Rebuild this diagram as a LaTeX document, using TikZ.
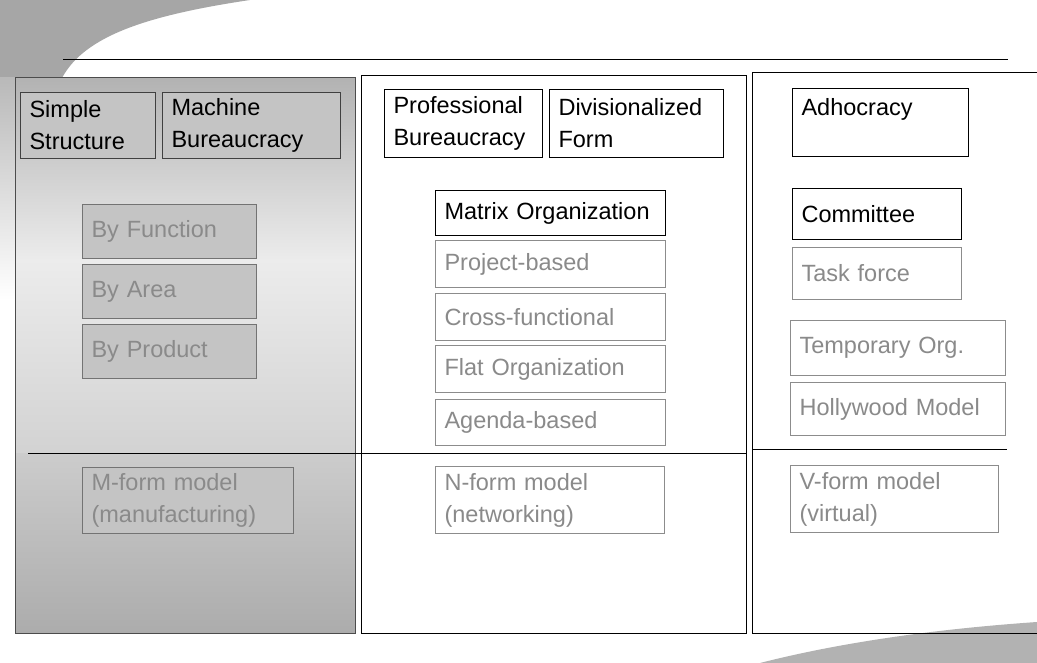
\documentclass[tikz,border=0pt]{standalone}
\usepackage{fontspec}
\setmainfont{Liberation Sans}
\hyphenpenalty=10000
\definecolor{boxgray}{HTML}{C4C4C4}
\definecolor{textgray}{HTML}{8A8A8A}
\definecolor{linegray}{HTML}{8C8C8C}
\tikzset{
  box/.style = {draw, rectangle, anchor = north west, align = left, inner xsep = 9pt, inner ysep = 0pt,
                line width = 1.1pt, font = \fontsize{23.5}{32}\selectfont},
  blackbox/.style = {box, draw = black, text = black, fill = white},
  graybox/.style = {box, draw = linegray, text = textgray, fill = white},
  leftbox/.style = {box, draw = black!75, text = black, fill = boxgray},
  leftgraybox/.style = {box, draw = black!55, text = textgray, fill = boxgray}
}
\begin{document}
\begin{tikzpicture}[x = 1pt, y = -1pt]
\useasboundingbox (0, 0) rectangle (1037, 663);
% slide decoration
\fill[gray!70] (0, 0) -- (250, 0) .. controls (150, 15) and (85, 35) .. (62, 78) -- (0, 78) -- cycle;
\shade[top color = gray!55, bottom color = white] (0, 78) rectangle (15, 300);
\fill[gray!60] (760, 663) .. controls (850, 640) and (950, 628) .. (1037, 622) -- (1037, 663) -- cycle;
\draw[line width = 1pt] (63, 60) -- (1008, 60);
% panels
\shade[top color = gray!60, bottom color = gray!15] (15, 78) rectangle (355, 260);
\shade[top color = gray!15, bottom color = gray!35] (15, 260) rectangle (355, 453);
\shade[top color = gray!40, bottom color = gray!65] (15, 453) rectangle (355, 633);
\draw[line width = 1pt, black!70] (15, 78) rectangle (355, 633);
\draw[line width = 1pt] (361, 76) rectangle (746, 633);
\draw[line width = 1pt] (1037, 73) -- (752, 73) -- (752, 633) -- (1037, 633);
\draw[line width = 1pt] (28, 453) -- (746, 453);
\draw[line width = 1pt] (752, 449) -- (1007, 449);
% left column
\node[leftbox, minimum width = 135, minimum height = 66, text width = 117] (simple) at (20, 92) {Simple\\Structure};
\node[leftbox, minimum width = 178, minimum height = 66, text width = 160] (machine) at (162, 92) {Machine\\Bureaucracy};
\node[leftgraybox, minimum width = 174, minimum height = 54, text width = 156] (function) at (82, 204) {By Function};
\node[leftgraybox, minimum width = 174, minimum height = 54, text width = 156] (area) at (82, 264) {By Area};
\node[leftgraybox, minimum width = 174, minimum height = 54, text width = 156] (product) at (82, 324) {By Product};
\node[leftgraybox, minimum width = 211, minimum height = 66, text width = 193] (mform) at (82, 467) {M-form model\\(manufacturing)};
% middle column
\node[blackbox, minimum width = 158, minimum height = 68, text width = 140] (professional) at (384, 89) {Professional\\Bureaucracy};
\node[blackbox, minimum width = 174, minimum height = 68, text width = 156] (divisional) at (549, 89) {Divisionalized\\Form};
\node[blackbox, minimum width = 230, minimum height = 45, text width = 212] (matrix) at (435, 190) {Matrix Organization};
\node[graybox, minimum width = 230, minimum height = 47, text width = 212] (project) at (435, 240) {Project-based};
\node[graybox, minimum width = 230, minimum height = 47, text width = 212] (cross) at (435, 293) {Cross-functional};
\node[graybox, minimum width = 230, minimum height = 47, text width = 212] (flat) at (435, 345) {Flat Organization};
\node[graybox, minimum width = 230, minimum height = 46, text width = 212] (agenda) at (435, 399) {Agenda-based};
\node[graybox, minimum width = 229, minimum height = 67, text width = 211] (nform) at (435, 466) {N-form model\\(networking)};
% right column
\node[blackbox, minimum width = 176, minimum height = 68, text width = 158] (adhocracy) at (792, 88) {Adhocracy\\~};
\node[blackbox, minimum width = 169, minimum height = 51, text width = 151] (committee) at (792, 188) {Committee};
\node[graybox, minimum width = 169, minimum height = 52, text width = 151] (task) at (792, 247) {Task force};
\node[graybox, minimum width = 215, minimum height = 55, text width = 197] (temporary) at (790, 320) {Temporary Org.};
\node[graybox, minimum width = 215, minimum height = 53, text width = 197] (hollywood) at (790, 382) {Hollywood Model};
\node[graybox, minimum width = 208, minimum height = 67, text width = 190] (vform) at (790, 465) {V-form model\\(virtual)};
\end{tikzpicture}
\end{document}
